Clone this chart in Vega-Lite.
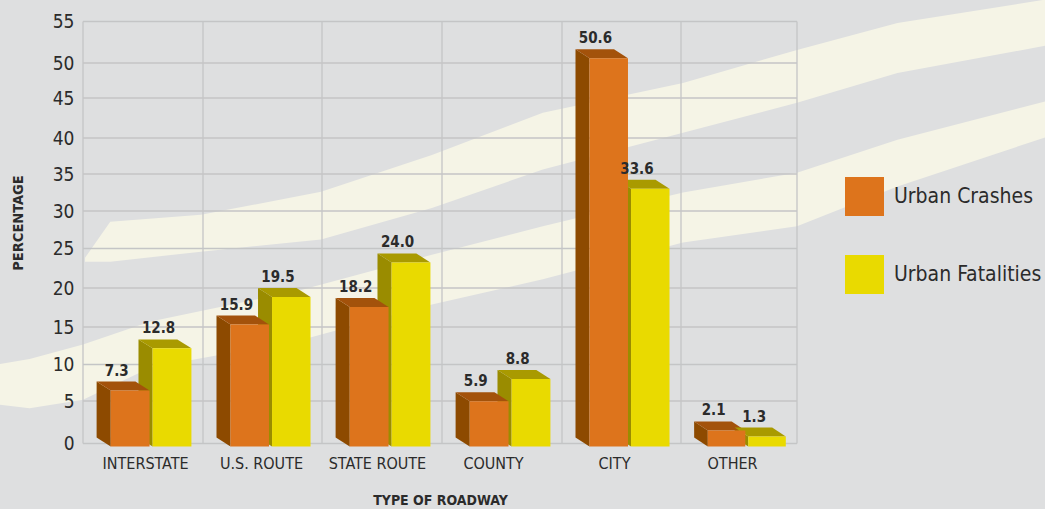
{
"$schema":"https://vega.github.io/schema/vega-lite/v6.json",
"autosize":{"type":"none"},
"padding":{"left":83,"top":21.5,"right":248,"bottom":65.5},
"width":714,"height":422,
"background":"#dedfe0",
"config":{"font":"DejaVu Sans Condensed, Roboto","view":{"stroke":null},"text":{"font":"DejaVu Sans Condensed, Roboto"}},
"datasets":{
"bars":[
{"road":"INTERSTATE","idx":0,"series":"Urban Crashes","value":7.3},
{"road":"INTERSTATE","idx":0,"series":"Urban Fatalities","value":12.8},
{"road":"U.S. ROUTE","idx":1,"series":"Urban Crashes","value":15.9},
{"road":"U.S. ROUTE","idx":1,"series":"Urban Fatalities","value":19.5},
{"road":"STATE ROUTE","idx":2,"series":"Urban Crashes","value":18.2},
{"road":"STATE ROUTE","idx":2,"series":"Urban Fatalities","value":24.0},
{"road":"COUNTY","idx":3,"series":"Urban Crashes","value":5.9},
{"road":"COUNTY","idx":3,"series":"Urban Fatalities","value":8.8},
{"road":"CITY","idx":4,"series":"Urban Crashes","value":50.6},
{"road":"CITY","idx":4,"series":"Urban Fatalities","value":33.6},
{"road":"OTHER","idx":5,"series":"Urban Crashes","value":2.1},
{"road":"OTHER","idx":5,"series":"Urban Fatalities","value":1.3}
],
"streaks":[
{"s":"a","x":0.017,"hi":24.2,"lo":23.7},{"s":"a","x":0.227,"hi":28.9,"lo":23.7},{"s":"a","x":0.983,"hi":29.8,"lo":25},{"s":"a","x":1.992,"hi":32.8,"lo":26.6},{"s":"a","x":2.916,"hi":37.6,"lo":30.7},{"s":"a","x":3.84,"hi":43.1,"lo":35.7},{"s":"a","x":5.017,"hi":47,"lo":40.5},{"s":"a","x":6,"hi":51.3,"lo":44.4},{"s":"a","x":6.866,"hi":54.8,"lo":48.3},{"s":"a","x":8.2,"hi":58,"lo":52},
{"s":"b","x":-0.72,"hi":10.3,"lo":5.1},{"s":"b","x":-0.445,"hi":11,"lo":4.6},{"s":"b","x":0,"hi":12.9,"lo":5.7},{"s":"b","x":0.563,"hi":15.9,"lo":9.9},{"s":"b","x":1.824,"hi":20,"lo":13.5},{"s":"b","x":2.916,"hi":24.6,"lo":18.1},{"s":"b","x":3.84,"hi":28.3,"lo":21.4},{"s":"b","x":5.017,"hi":32.7,"lo":26.2},{"s":"b","x":6,"hi":35.3,"lo":28.3},{"s":"b","x":6.866,"hi":39.6,"lo":33.5},{"s":"b","x":8.2,"hi":44.8,"lo":40.2}
],
"ticks":[{"t":0},{"t":5},{"t":10},{"t":15},{"t":20},{"t":25},{"t":30},{"t":35},{"t":40},{"t":45},{"t":50},{"t":55}],
"walls":[{"b":0},{"b":1},{"b":2},{"b":3},{"b":4},{"b":5},{"b":6}]
},
"resolve":{"scale":{"y":"independent"},"axis":{"y":"independent"}},
"layer":[
{"data":{"name":"streaks"},"mark":{"type":"area","color":"#f5f4e6","clip":false},
 "encoding":{"x":{"field":"x","type":"quantitative","scale":{"domain":[0,1,2,3,4,5,6],"range":[0,120,239,359,479,598,714]},
   "axis":{"values":[0.517,1.487,2.458,3.425,4.437,5.44],"grid":false,"domain":false,"ticks":false,"zindex":1,"labelOverlap":false,
     "labelExpr":"['INTERSTATE','U.S. ROUTE','STATE ROUTE','COUNTY','CITY','OTHER'][floor(datum.value)]",
     "labelFontSize":16,"labelColor":"#2b2b2b","labelPadding":12,"labelFlush":false,
     "title":"TYPE OF ROADWAY","titleFontSize":14,"titleFontWeight":"bold","titleColor":"#2b2b2b","titlePadding":22}},
  "y":{"field":"hi","type":"quantitative","scale":{"domain":[0,55]},"axis":null,"stack":null},"y2":{"field":"lo"},"detail":{"field":"s"}}},
{"data":{"name":"walls"},"mark":{"type":"rule","color":"#c4c5c6","strokeWidth":1.3},
 "encoding":{"x":{"field":"b","type":"quantitative"}}},
{"data":{"name":"ticks"},"mark":{"type":"rule","color":"#c4c5c6","strokeWidth":1.3},
 "encoding":{"y":{"field":"t","type":"quantitative",
   "scale":{"domain":[0,5,10,15,20,25,30,35,40,45,50,55],"range":[422,379.5,343,305.5,266.5,227,189.5,152.5,116.5,76.5,41.5,0]},
   "axis":{"values":[0,5,10,15,20,25,30,35,40,45,50,55],"grid":false,"domain":false,"ticks":false,"zindex":1,"labelOverlap":false,"labelFontSize":19,"labelColor":"#2b2b2b","labelPadding":9,
     "title":"PERCENTAGE","titleFontSize":14.5,"titleFontWeight":"bold","titleColor":"#2b2b2b","titlePadding":27,"titleY":201}}}},
{"data":{"name":"bars"},
 "transform":[
  {"calculate":"datum.idx+(datum.series==='Urban Crashes'?0.231:0.58)","as":"xf"},
  {"calculate":"[0,1]","as":"t"},{"flatten":["t"]},
  {"calculate":"datum.xf-0.1176*(1-datum.t)","as":"px"},
  {"calculate":"datum.value-0.4+1.17*(1-datum.t)","as":"py"},
  {"calculate":"-0.4+1.17*(1-datum.t)","as":"py2"}],
 "mark":{"type":"area","clip":false},
 "encoding":{"x":{"field":"px","type":"quantitative"},
  "y":{"field":"py","type":"quantitative","scale":{"domain":[0,55]},"axis":null,"stack":null},"y2":{"field":"py2"},
  "detail":[{"field":"road"},{"field":"series"}],
  "fill":{"condition":{"test":"datum.series==='Urban Crashes'","value":"#8d4a00"},"value":"#9a8c00"}}},
{"data":{"name":"bars"},
 "transform":[
  {"calculate":"datum.idx+(datum.series==='Urban Crashes'?0.231:0.58)","as":"xf"},
  {"calculate":"[0,1,2,3]","as":"t"},{"flatten":["t"]},
  {"calculate":"[datum.xf-0.1176,datum.xf,datum.xf+0.3235-0.1176,datum.xf+0.3235][datum.t]","as":"px"},
  {"calculate":"datum.t==3?datum.value-0.4:datum.value-0.4+1.17","as":"py"},
  {"calculate":"datum.value-0.4+(datum.t==0?1.17:0)","as":"py2"}],
 "mark":{"type":"area","clip":false},
 "encoding":{"x":{"field":"px","type":"quantitative"},
  "y":{"field":"py","type":"quantitative","scale":{"domain":[0,55]},"axis":null,"stack":null},"y2":{"field":"py2"},
  "detail":[{"field":"road"},{"field":"series"}],
  "fill":{"condition":{"test":"datum.series==='Urban Crashes'","value":"#a3520b"},"value":"#a99a00"}}},
{"data":{"name":"bars"},
 "transform":[
  {"calculate":"datum.idx+(datum.series==='Urban Crashes'?0.231:0.58)","as":"xf"},
  {"calculate":"datum.xf+0.3235","as":"xr"},
  {"calculate":"datum.value-0.4","as":"top"},
  {"calculate":"-0.4","as":"base"}],
 "mark":{"type":"rect","clip":false},
 "encoding":{"x":{"field":"xf","type":"quantitative"},"x2":{"field":"xr"},
  "y":{"field":"top","type":"quantitative","scale":{"domain":[0,55]},"axis":null},"y2":{"field":"base"},
  "color":{"field":"series","type":"nominal","scale":{"domain":["Urban Crashes","Urban Fatalities"],"range":["#dd741c","#e9da00"]},
   "legend":{"orient":"none","legendX":762,"legendY":155.5,"title":null,"padding":0,"symbolType":"square","symbolSize":1521,"symbolStrokeWidth":0,"rowPadding":39,"labelFontSize":21,"labelColor":"#2b2b2b","labelOffset":10}}}},
{"data":{"name":"bars"},
 "transform":[
  {"calculate":"datum.idx+(datum.series==='Urban Crashes'?0.231:0.58)+0.05","as":"xl"},
  {"calculate":"datum.value-0.4+1.17","as":"yl"}],
 "mark":{"type":"text","baseline":"bottom","dy":-3,"fontSize":15,"fontWeight":"bold","color":"#2b2b2b","clip":false},
 "encoding":{"x":{"field":"xl","type":"quantitative"},
  "y":{"field":"yl","type":"quantitative","scale":{"domain":[0,55]},"axis":null},
  "text":{"field":"value","type":"quantitative","format":".1f"}}}
]}
